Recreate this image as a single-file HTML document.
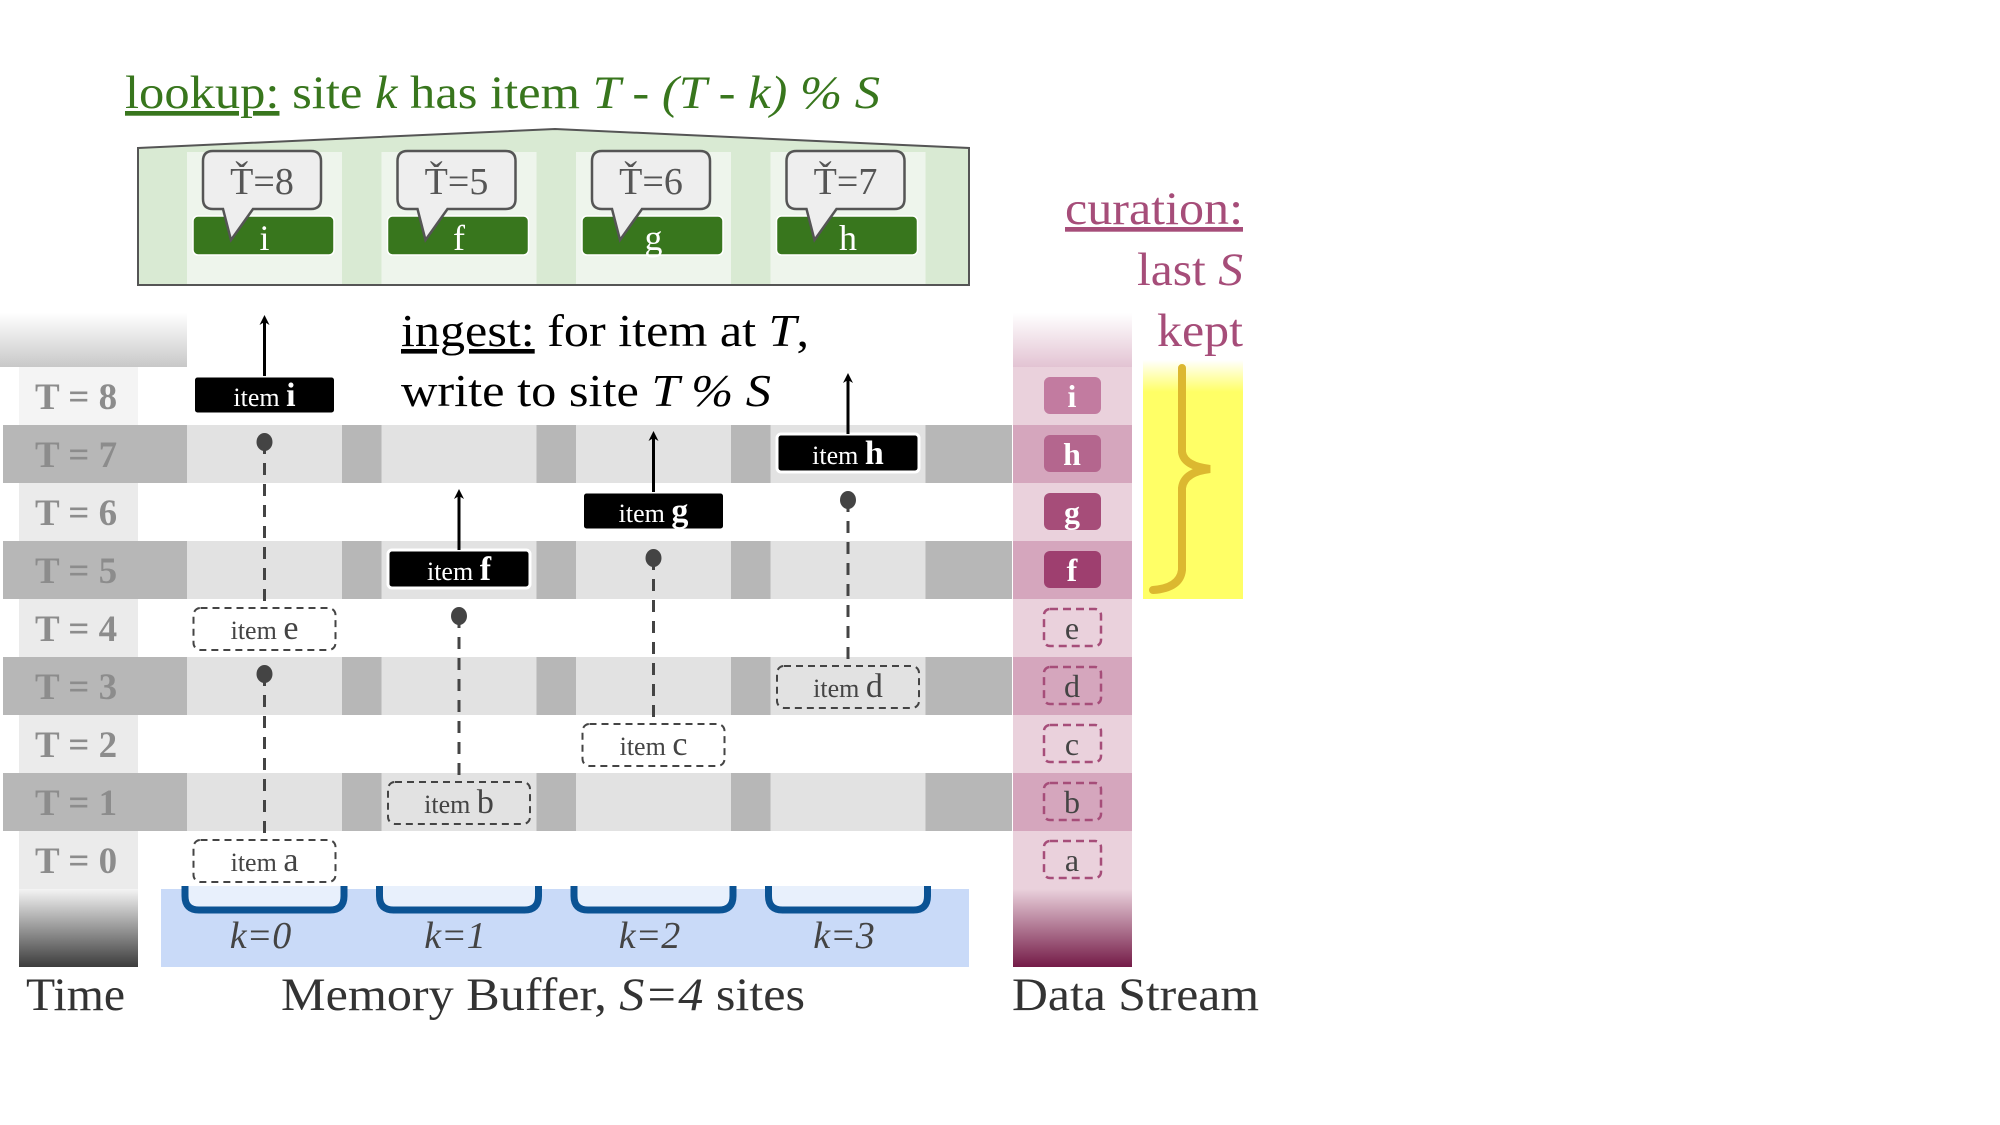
<!DOCTYPE html>
<html><head><meta charset="utf-8"><style>
html,body{margin:0;padding:0;background:#fff}
svg{display:block}
text{font-family:"Liberation Serif",serif}
</style></head><body>
<svg id="fig" width="2000" height="1125" viewBox="0 0 2000 1125">
<defs>
<linearGradient id="gTop" x1="0" y1="0" x2="0" y2="1"><stop offset="0" stop-color="#fff"/><stop offset="1" stop-color="#c8c8c8"/></linearGradient>
<linearGradient id="gBot" x1="0" y1="0" x2="0" y2="1"><stop offset="0" stop-color="#f4f4f4"/><stop offset="1" stop-color="#3c3c3c"/></linearGradient>
<linearGradient id="pTop" x1="0" y1="0" x2="0" y2="1"><stop offset="0" stop-color="#fff"/><stop offset="1" stop-color="#e2c2d2"/></linearGradient>
<linearGradient id="pBot" x1="0" y1="0" x2="0" y2="1"><stop offset="0" stop-color="#ead1dc"/><stop offset="1" stop-color="#741b47"/></linearGradient>
<linearGradient id="yTop" x1="0" y1="0" x2="0" y2="1"><stop offset="0" stop-color="#fff"/><stop offset="1" stop-color="#ffff66"/></linearGradient>
<marker id="arr" markerWidth="10" markerHeight="10" refX="5" refY="5" orient="auto" markerUnits="userSpaceOnUse"><path d="M0,0 L10,5 L0,10 L3,5 Z" fill="#000"/></marker>
</defs>
<g id="layer"></g>
</svg>
<script>
// diagram data
const siteLabels = ['k=0','k=1','k=2','k=3'];
const lookupItems = ['i','f','g','h'];
const lookupTimes = [8,5,6,7];
const streamItems = ['a','b','c','d','e','f','g','h','i'];
const itemSite = [0,1,2,3,0,1,2,3,0];
const keptFrom = 5;

const NS='http://www.w3.org/2000/svg';
const L=document.getElementById('layer');
function mk(tag,attrs,parent){const e=document.createElementNS(NS,tag);for(const k in attrs)e.setAttribute(k,attrs[k]);(parent||L).appendChild(e);return e;}
function tx(x,y,str,attrs,parent){const e=mk('text',Object.assign({x:x,y:y},attrs),parent);e.textContent=str;return e;}
function fit(e,w){e.setAttribute('textLength',w);e.setAttribute('lengthAdjust','spacingAndGlyphs');}

const rowTop=t=>831-58*t, rowH=58, rowC=t=>rowTop(t)+29;
const colX=k=>187+194.5*k, colW=155, colC=k=>colX(k)+colW/2;

// time rows
for(let t=0;t<=8;t++){
  const odd=t%2===1;
  let r;
  if(odd){
    r=mk('rect',{x:3,y:rowTop(t),width:1009,height:rowH,fill:'#b7b7b7'});
    
    for(let k=0;k<4;k++){const c=mk('rect',{x:colX(k),y:rowTop(t),width:colW,height:rowH,fill:'#e2e2e2'});
      }
  } else {
    r=mk('rect',{x:19,y:rowTop(t),width:119,height:rowH,fill:t===8?'#f4f4f4':'#ebebeb'});
    
  }
  const lb=tx(35,rowC(t)+13,'T = '+t,{'font-size':37,'font-weight':'bold',fill:'#8c8c8c'});
  
}
let g1=mk('rect',{x:0,y:313,width:187,height:54,fill:'url(#gTop)'});

let g2=mk('rect',{x:19,y:889,width:119,height:78,fill:'url(#gBot)'});


// blue site area
let bl=mk('rect',{x:161,y:889,width:808,height:78,fill:'#c9daf8'});

siteLabels.forEach((s,k)=>{
  const x0=colX(k)-2,x1=colX(k)+colW+2;
  const u=mk('path',{d:`M${x0},886 L${x0},896 Q${x0},910 ${x0+14},910 L${x1-14},910 Q${x1},910 ${x1},896 L${x1},886`,fill:'#e8f0fc',stroke:'#0b5394','stroke-width':7});
  
  const t=tx(colC(k)-4,948,'',{'font-size':38,'font-style':'italic',fill:'#444','text-anchor':'middle'});
  t.textContent=s;
  
});

// lookup house
let hs=mk('path',{d:'M138,148 L555,129 L969,148 L969,285 L138,285 Z',fill:'#d9ead3',stroke:'#555','stroke-width':2});

lookupItems.forEach((it,k)=>{
  const c=mk('rect',{x:colX(k),y:152,width:colW,height:132,fill:'#eef5ec'});
  
  const bx=colX(k)+6;
  const b=mk('rect',{x:bx,y:216,width:141,height:39,rx:5,fill:'#38761d',stroke:'#fff','stroke-width':1.5});
  
  const lt=tx(colC(k),250,it,{'font-size':36,fill:'#fff','text-anchor':'middle'});
  
  const x0=colX(k)+16,x1=x0+118;
  const bub=mk('path',{d:`M${x0+10},151 L${x1-10},151 Q${x1},151 ${x1},161 L${x1},199 Q${x1},209 ${x1-10},209 L${x0+50},209 L${x0+28},240 L${x0+20},209 L${x0+10},209 Q${x0},209 ${x0},199 L${x0},161 Q${x0},151 ${x0+10},151 Z`,fill:'#eeeeee',stroke:'#555','stroke-width':2.5});
  
  const bt=tx(x0+59,194,'Ť='+lookupTimes[k],{'font-size':38,fill:'#555','text-anchor':'middle'});
  
});
let lk=tx(125,108,'',{'font-size':47,fill:'#38761d'});
lk.innerHTML='<tspan text-decoration="underline">lookup:</tspan> site <tspan font-style="italic">k</tspan> has item <tspan font-style="italic">T - (T - k) % S</tspan>';
fit(lk,755);


// items in buffer
streamItems.forEach((it,t)=>{
  const k=itemSite[t];
  const kept=t>=keptFrom;
  const x=colC(k)-71,y=rowC(t)-20;
  if(kept){
    const b=mk('rect',{x:x,y:y,width:142,height:38,rx:4,fill:'#000',stroke:'#fff','stroke-width':3});
    
    const tt=tx(colC(k),y+30,'',{'font-size':26,fill:'#fff','text-anchor':'middle'});
    tt.innerHTML='item <tspan font-size="34" font-weight="bold">'+it+'</tspan>';
    
    const ar=mk('line',{x1:colC(k),y1:y,x2:colC(k),y2:y-56,stroke:'#000','stroke-width':3,'marker-end':'url(#arr)'});
    
  } else {
    const b=mk('rect',{x:x,y:y,width:142,height:42,rx:7,fill:t%2?'#e2e2e2':'#fff',stroke:'#444','stroke-width':2,'stroke-dasharray':'7,5'});
    
    const tt=tx(colC(k),y+31,'',{'font-size':26,fill:'#444','text-anchor':'middle'});
    tt.innerHTML='item <tspan font-size="34">'+it+'</tspan>';
    
    const t2=t+4, dy=rowC(t2)+46;
    const ln=mk('line',{x1:colC(k),y1:dy,x2:colC(k),y2:y,stroke:'#444','stroke-width':3,'stroke-dasharray':'12,9'});
    
    const d=mk('ellipse',{cx:colC(k),cy:dy,rx:8,ry:9,fill:'#444'});
    
  }
});

let ing=tx(401,346,'',{'font-size':46,fill:'#000'});
ing.innerHTML='<tspan text-decoration="underline">ingest:</tspan> for item at <tspan font-style="italic">T</tspan>,';
fit(ing,408);

let ing2=tx(401,406,'',{'font-size':46,fill:'#000'});
ing2.innerHTML='write to site <tspan font-style="italic">T % S</tspan>';
fit(ing2,370);


// data stream
let pt=mk('rect',{x:1013,y:313,width:119,height:55,fill:'url(#pTop)'});

let pb=mk('rect',{x:1013,y:889,width:119,height:78,fill:'url(#pBot)'});

const keptFill=['#9e3f6f','#a64d79','#b4668e','#c27ba0'];
streamItems.forEach((it,t)=>{
  const r=mk('rect',{x:1013,y:rowTop(t),width:119,height:rowH,fill:t%2?'#d5a6bd':'#ead1dc'});
  
  const kept=t>=keptFrom;
  const b=mk('rect',{x:1044,y:rowC(t)-19,width:57,height:37,rx:6,fill:kept?keptFill[t-keptFrom]:'none',stroke:kept?'none':'#a64d79','stroke-width':2.5,'stroke-dasharray':kept?'none':'8,5'});
  
  const tt=tx(1072,rowC(t)+11,it,{'font-size':32,'font-weight':kept?'bold':'normal',fill:kept?'#fff':'#444','text-anchor':'middle'});
  
});

// curation
let yb=mk('rect',{x:1143,y:367,width:100,height:232,fill:'#ffff66'});

let yt=mk('rect',{x:1143,y:360,width:100,height:32,fill:'url(#yTop)'});

let br=mk('path',{d:'M1182,368 L1182,452 Q1184,466 1210,469 Q1184,472 1182,488 L1182,570 Q1180,588 1153,590',fill:'none',stroke:'#dcb830','stroke-width':8,'stroke-linecap':'round'});

let c1=tx(1065,224,'curation:',{'font-size':47,fill:'#a64d79','text-decoration':'underline'});
fit(c1,178);

let c2=tx(1137,285,'',{'font-size':47,fill:'#a64d79'});
c2.innerHTML='last <tspan font-style="italic">S</tspan>';
fit(c2,106);

let c3=tx(1157,346,'kept',{'font-size':47,fill:'#a64d79'});
fit(c3,86);


// bottom labels
let b1=tx(26,1010,'Time',{'font-size':47,fill:'#333'});
fit(b1,99);

let b2=tx(281,1010,'',{'font-size':47,fill:'#333'});
b2.innerHTML='Memory Buffer, <tspan font-style="italic">S=4</tspan> sites';
fit(b2,524);

let b3=tx(1012,1010,'Data Stream',{'font-size':47,fill:'#333'});
fit(b3,247);

</script>
</body></html>
